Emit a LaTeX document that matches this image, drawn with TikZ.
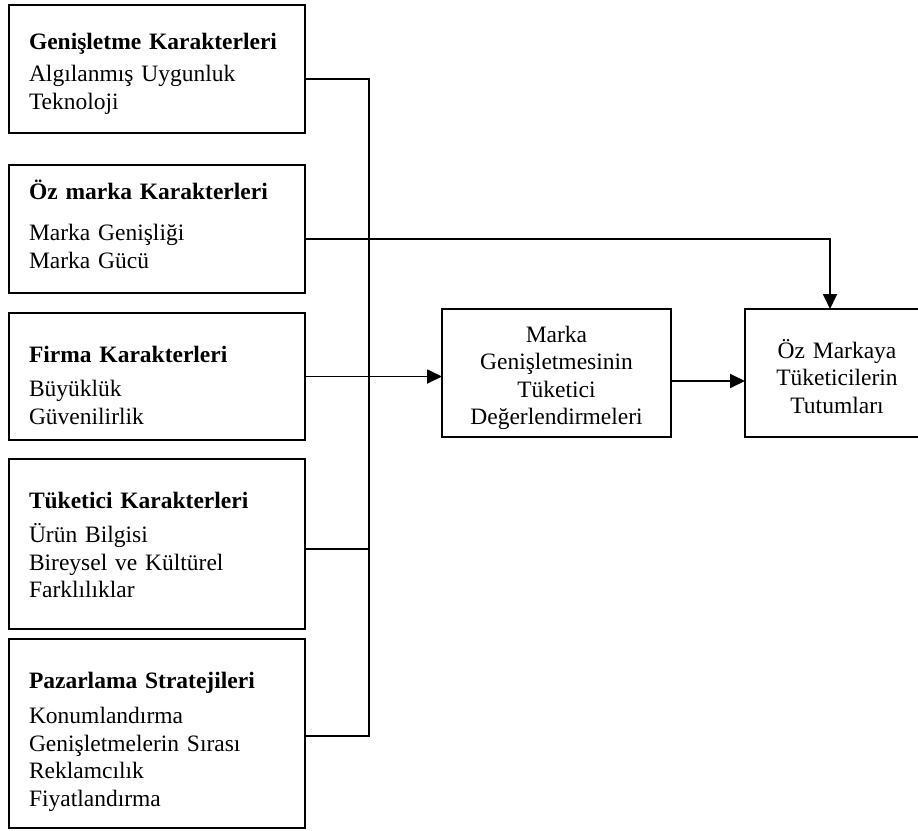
\documentclass[tikz,border=0pt]{standalone}
\usepackage{fontspec}
\setmainfont{Liberation Serif}
\usetikzlibrary{positioning,arrows.meta}

\begin{document}
\begin{tikzpicture}[
    x=1pt, y=-1pt,
    font=\fontsize{23.5}{27.5}\selectfont,
    line width=1.8pt,
    >={Triangle[length=15pt,width=14pt]},
    leftbox/.style={draw, minimum width=296pt, inner xsep=20pt, inner ysep=0pt,
                    outer sep=0pt, text width=256pt, align=left},
    resbox/.style={draw, inner xsep=0pt, inner ysep=0pt, outer sep=0pt, align=center},
  ]
  \useasboundingbox (0,0) rectangle (918,830);

  % factor boxes
  \node[leftbox, anchor=north west, text height=44pt, text depth=84pt] (ext) at (9,5)
    {\textbf{Genişletme Karakterleri}\\[5pt]Algılanmış Uygunluk\\Teknoloji};
  \node[leftbox, below=32pt of ext.south west, anchor=north west,
        text height=34pt, text depth=94pt] (brand)
    {\textbf{Öz marka Karakterleri}\\[14pt]Marka Genişliği\\Marka Gücü};
  \node[leftbox, below=20pt of brand.south west, anchor=north west,
        text height=49pt, text depth=78pt] (firm)
    {\textbf{Firma Karakterleri}\\[7pt]Büyüklük\\Güvenilirlik};
  \node[leftbox, below=19pt of firm.south west, anchor=north west,
        text height=49pt, text depth=121pt] (cons)
    {\textbf{Tüketici Karakterleri}\\[7pt]Ürün Bilgisi\\Bireysel ve Kültürel\\Farklılıklar};
  \node[leftbox, below=10pt of cons.south west, anchor=north west,
        text height=49pt, text depth=140pt] (mkt)
    {\textbf{Pazarlama Stratejileri}\\[8pt]Konumlandırma\\Genişletmelerin Sırası\\Reklamcılık\\Fiyatlandırma};

  % outcome boxes
  \node[resbox, anchor=north west, minimum width=229pt, text width=229pt,
        text height=33pt, text depth=95pt] (eval) at (442,309)
    {Marka\\Genişletmesinin\\Tüketici\\Değerlendirmeleri};
  \node[resbox, right=74pt of eval.north east, anchor=north west, minimum width=184pt,
        text width=184pt, text height=49pt, text depth=79pt] (att)
    {Öz Markaya\\Tüketicilerin\\Tutumları};

  % connectors
  \coordinate (busend) at (369,736);
  \draw ([yshift=-10pt]ext.east) -| (busend) -- (busend -| mkt.east);
  \draw ([yshift=-5pt]cons.east) -- ++(64,0);
  \draw[->] (firm.east) -- (firm.east -| eval.west);
  \draw[->] ([yshift=-10pt]brand.east) -| ([xshift=-7pt]att.north);
  \draw[->] ([yshift=-8pt]eval.east) -- ([yshift=-8pt]att.west);
\end{tikzpicture}
\end{document}
